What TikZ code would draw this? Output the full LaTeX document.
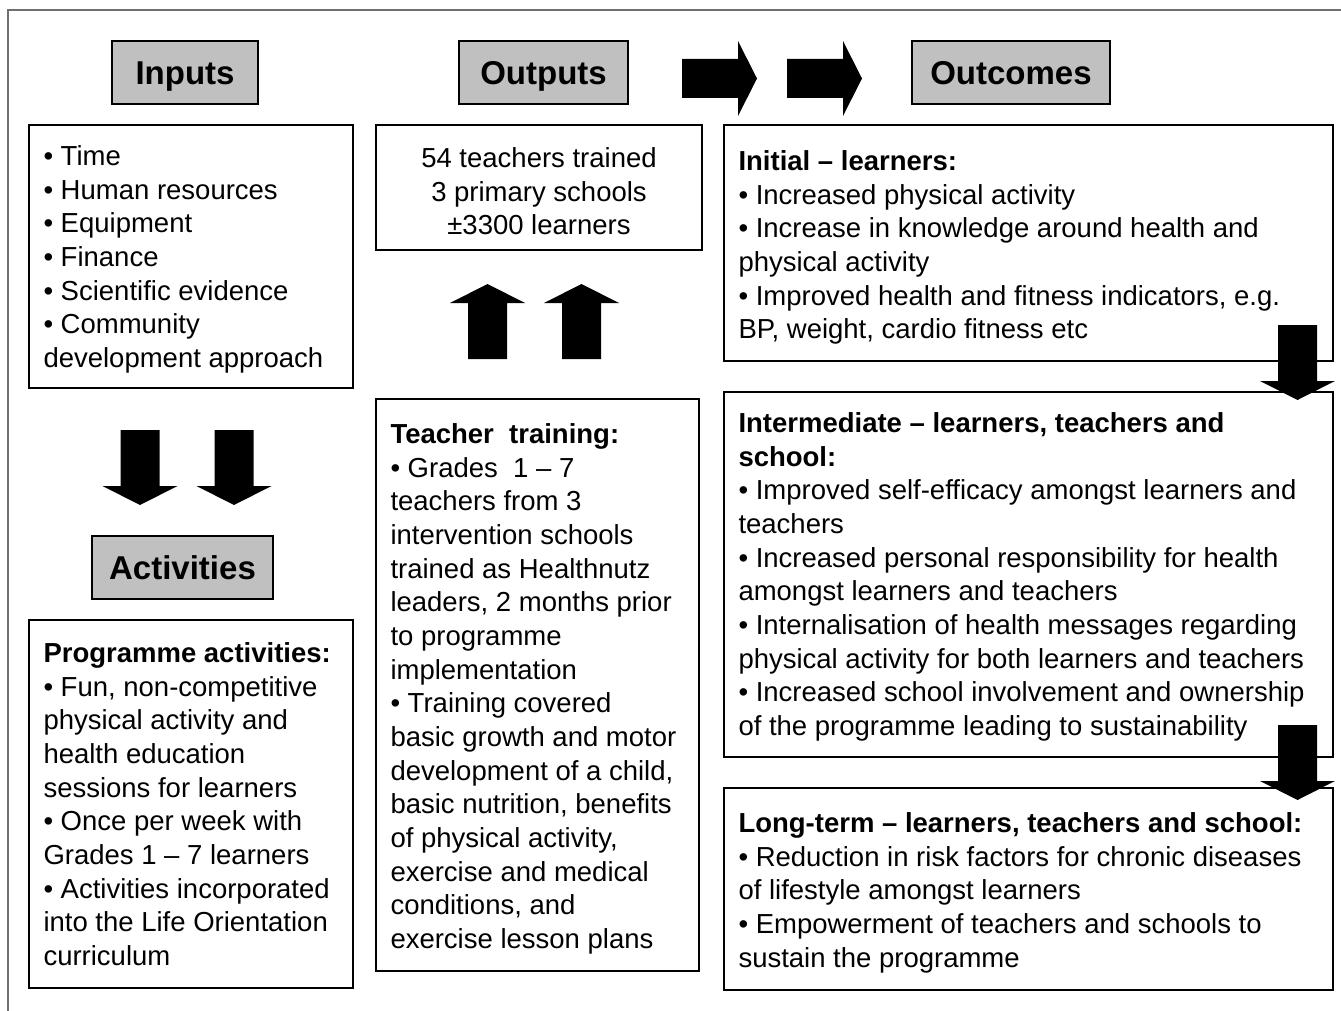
\documentclass[tikz,border=0pt]{standalone}
\usepackage{fontspec}
\setmainfont{Liberation Sans}
\usepackage{xcolor}
\definecolor{headgray}{HTML}{C0C0C0}
\definecolor{framegray}{HTML}{707070}
\tikzset{
	header/.style={
			draw, line width=2.5pt, fill=headgray, anchor=north west, inner sep=0pt, outer sep=0pt,
			text height=24pt, text depth=0pt,
			font=\bfseries\fontsize{33}{40}\selectfont
		},
	panel/.style={
			draw, line width=2.5pt, anchor=north west, inner sep=0pt, outer sep=0pt,
			font=\fontsize{27.5}{33.67}\selectfont
		},
	blockarrow/.pic={
			\fill (0,-19.5) -- (56,-19.5) -- (56,-37.5) -- (75,0) -- (56,37.5) -- (56,19.5) -- (0,19.5) -- cycle;
		}
}
% width, height, top pad, text
\newcommand{\panelbox}[4]{\parbox[t][#2pt][t]{#1pt}{\raggedright\leftskip=14.5pt\vspace*{#3pt}#4}}
\newcommand{\bul}{\textbullet\ }

\begin{document}
\begin{tikzpicture}[x=1pt, y=-1pt]
		\useasboundingbox (0,0) rectangle (1341,1011);

		% Outer frame
		\draw[framegray, line width=1.5pt] (8,1011) -- (8,10) -- (1341,10);

		% Headings
		\node[header, minimum width=146pt, minimum height=63pt] (inputhead) at (112,41) {Inputs};
		\node[header, minimum width=169pt, minimum height=63pt] (outputhead) at (459,41) {Outputs};
		\node[header, minimum width=198pt, minimum height=63pt] (outcomehead) at (912,41) {Outcomes};
		\node[header, minimum width=181pt, minimum height=63pt] (activityhead) at (92,536) {Activities};

		% Inputs
		\node[panel] (inputlist) at (29,125) {\panelbox{324}{263}{20.5}{%
				\bul Time\\
				\bul Human resources\\
				\bul Equipment\\
				\bul Finance\\
				\bul Scientific evidence\\
				\bul Community\\
				development approach}};

		% Programme activities
		\node[panel] (activitylist) at (29,620) {\panelbox{324}{368}{22.5}{%
				\textbf{Programme activities:}\\
				\bul Fun, non-competitive\\
				physical activity and\\
				health education\\
				sessions for learners\\
				\bul Once per week with\\
				Grades 1 – 7 learners\\
				\bul Activities incorporated\\
				into the Life Orientation\\
				curriculum}};

		% Outputs
		\node[panel] (outputlist) at (376,125) {\panelbox{326}{125}{22.5}{\centering
				54 teachers trained\\
				3 primary schools\\
				±3300 learners}};

		% Teacher training
		\node[panel] (training) at (376,399) {\panelbox{323}{572}{24.5}{%
				\textbf{Teacher\ \ training:}\\
				\bul Grades\ \ 1 – 7\\
				teachers from 3\\
				intervention schools\\
				trained as Healthnutz\\
				leaders, 2 months prior\\
				to programme\\
				implementation\\
				\bul Training covered\\
				basic growth and motor\\
				development of a child,\\
				basic nutrition, benefits\\
				of physical activity,\\
				exercise and medical\\
				conditions, and\\
				exercise lesson plans}};

		% Outcomes
		\node[panel] (initial) at (724,125) {\panelbox{609}{236}{25.5}{%
				\textbf{Initial – learners:}\\
				\bul Increased physical activity\\
				\bul Increase in knowledge around health and\\
				physical activity\\
				\bul Improved health and fitness indicators, e.g.\\
				BP, weight, cardio fitness etc}};

		\node[panel] (intermediate) at (724,392) {\panelbox{609}{365}{20.5}{%
				\textbf{Intermediate – learners, teachers and\\
					school:}\\
				\bul Improved self-efficacy amongst learners and\\
				teachers\\
				\bul Increased personal responsibility for health\\
				amongst learners and teachers\\
				\bul Internalisation of health messages regarding\\
				physical activity for both learners and teachers\\
				\bul Increased school involvement and ownership\\
				of the programme leading to sustainability}};

		\node[panel] (longterm) at (724,788) {\panelbox{609}{202}{24.5}{%
				\textbf{Long-term – learners, teachers and school:}\\
				\bul Reduction in risk factors for chronic diseases\\
				of lifestyle amongst learners\\
				\bul Empowerment of teachers and schools to\\
				sustain the programme}};

		% Block arrows
		\pic at (682,78.5) {blockarrow};
		\pic at (787,78.5) {blockarrow};
		\pic[rotate=90] at (487.5,359) {blockarrow};
		\pic[rotate=90] at (581.5,359) {blockarrow};
		\pic[rotate=-90] at (140,430) {blockarrow};
		\pic[rotate=-90] at (234,430) {blockarrow};
		\pic[rotate=-90] at (1297.5,325) {blockarrow};
		\pic[rotate=-90] at (1297.5,725) {blockarrow};
	\end{tikzpicture}
\end{document}
